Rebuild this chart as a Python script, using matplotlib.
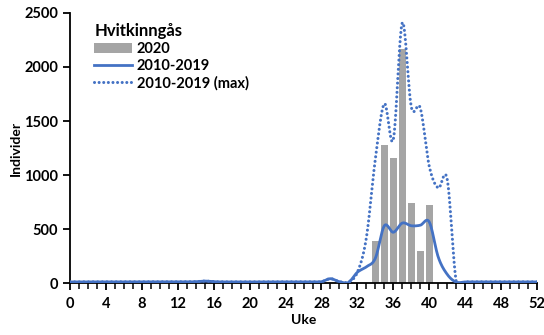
import numpy as np
import matplotlib
matplotlib.use("Agg")
from matplotlib import pyplot as plt
from matplotlib.ticker import MultipleLocator

plt.rcParams['font.family'] = ['Lato', 'DejaVu Sans']
plt.rcParams['font.weight'] = 'bold'

# data
weeks = list(range(0, 53))
bar_weeks = [34, 35, 36, 37, 38, 39, 40]
bar_2020 = [392, 1278, 1154, 2167, 744, 293, 722]

avg_2010_2019 = [10, 10, 10, 10, 10, 10, 10, 10, 10, 10,
                 10, 10, 10, 10, 12, 18, 12, 10, 10, 10,
                 10, 10, 10, 10, 10, 10, 10, 10, 12, 40,
                 12, 5, 100, 150, 230, 530, 470, 555, 530, 535,
                 565, 240, 80, 8, 10, 10, 10, 10, 10, 10,
                 10, 10, 10]
max_2010_2019 = [10, 10, 10, 10, 10, 10, 10, 10, 10, 10,
                 10, 10, 10, 10, 12, 18, 12, 10, 10, 10,
                 10, 10, 10, 10, 10, 10, 10, 10, 12, 40,
                 12, 10, 100, 420, 1150, 1660, 1330, 2410, 1630, 1620,
                 1080, 880, 960, 15, 10, 10, 10, 10, 10, 10,
                 10, 10, 10]

xlabels = [str(v) for v in range(0, 53, 4)]


def smooth(x, y, n=20):
    # catmull-rom, like excel's smoothed line
    x = np.asarray(x, float)
    y = np.asarray(y, float)
    px = np.concatenate([[2 * x[0] - x[1]], x, [2 * x[-1] - x[-2]]])
    py = np.concatenate([[y[0]], y, [y[-1]]])
    xs, ys = [], []
    t = np.linspace(0, 1, n, endpoint=False)
    for i in range(1, len(px) - 2):
        for p, out in ((px, xs), (py, ys)):
            p0, p1, p2, p3 = p[i - 1], p[i], p[i + 1], p[i + 2]
            out.extend(0.5 * (2 * p1 + (-p0 + p2) * t
                              + (2 * p0 - 5 * p1 + 4 * p2 - p3) * t ** 2
                              + (-p0 + 3 * p1 - 3 * p2 + p3) * t ** 3))
    xs.append(x[-1])
    ys.append(y[-1])
    return np.array(xs), np.clip(np.array(ys), 0, None)


fig = plt.figure(figsize=(5.44, 3.35), dpi=100)
ax = fig.add_axes([0.1287, 0.1552, 0.8585, 0.806])

blue = '#4472C4'
ax.bar(bar_weeks, bar_2020, width=0.82, color='#A5A5A5', label='2020', zorder=2)
sx, sy = smooth(weeks, avg_2010_2019)
ax.plot(sx, sy, color=blue, lw=2, label='2010-2019', zorder=3)
mx, my = smooth(weeks, max_2010_2019)
ax.plot(mx, my, color=blue, lw=2.2, ls=(0, (0.01, 1.5)), dash_capstyle='round',
        label='2010-2019 (max)', zorder=3)

ax.set_xlim(0, 52)
ax.set_ylim(0, 2500)
ax.xaxis.set_minor_locator(MultipleLocator(1))
ax.set_xticks(range(0, 53, 4), xlabels, fontweight='bold')
ax.set_yticks(range(0, 2501, 500), [str(v) for v in range(0, 2501, 500)], fontweight='bold')
for s in ['top', 'right']:
    ax.spines[s].set_visible(False)
for s in ['left', 'bottom']:
    ax.spines[s].set_linewidth(1.3)
ax.tick_params(axis='x', which='major', direction='out', length=5, width=1.3, labelsize=10.5, pad=5)
ax.tick_params(axis='x', which='minor', direction='out', length=4, width=1.1)
ax.tick_params(axis='y', which='major', direction='out', length=5, width=1.3, labelsize=10.5)

ax.set_xlabel('Uke', fontsize=10, fontweight='bold', labelpad=2)
ax.set_ylabel('Individer', fontsize=10, fontweight='bold', labelpad=2)

h, l = ax.get_legend_handles_labels()
order = [2, 0, 1]
leg = ax.legend([h[i] for i in order], [l[i] for i in order],
                loc='upper left', bbox_to_anchor=(0.03, 1.0), frameon=False,
                title='Hvitkinngås', prop={'weight': 'bold', 'size': 10.5},
                handlelength=2.6, handletextpad=0.3, labelspacing=0.2, borderpad=0.2)
leg.get_title().set_fontweight('bold')
leg.get_title().set_fontsize(12)
leg._legend_box.align = 'left'

fig.savefig('out.png', dpi=100)
